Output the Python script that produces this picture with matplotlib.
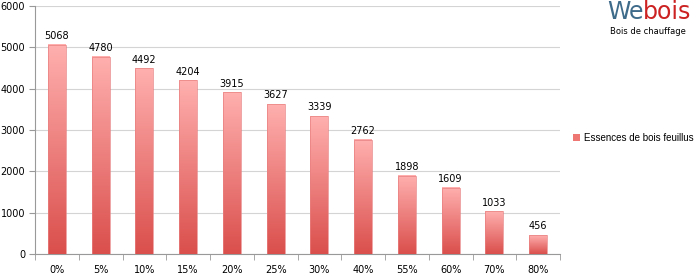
import numpy as np
import matplotlib
matplotlib.use("Agg")
import matplotlib.pyplot as plt
import matplotlib.colors as mcolors
from matplotlib.patches import Rectangle

# humidity categories and energy values
categories = ["0%", "5%", "10%", "15%", "20%", "25%", "30%", "40%", "55%", "60%", "70%", "80%"]
values = [5068, 4780, 4492, 4204, 3915, 3627, 3339, 2762, 1898, 1609, 1033, 456]
series_name = "Essences de bois feuillus"

plt.rcParams['font.family'] = ['DejaVu Sans']

fig = plt.figure(figsize=(7, 2.77), dpi=100, facecolor='white')
ax = fig.add_axes([0.05, 0.083, 0.75, 0.895])

bar_cmap = mcolors.LinearSegmentedColormap.from_list("bar", ['#DA4F4C', '#FFB0AF'])
grad = np.linspace(0, 1, 256).reshape(-1, 1)
width = 0.41

for i, v in enumerate(values):
    ax.imshow(grad, cmap=bar_cmap, origin='lower', aspect='auto',
              extent=[i - width / 2, i + width / 2, 0, v], zorder=3)
    ax.add_patch(Rectangle((i - width / 2, 0), width, v, fill=False,
                           edgecolor='#E88080', lw=0.5, zorder=4))
    ax.text(i, v + 90, str(v), ha='center', va='bottom', fontsize=7, color='black')

ax.set_xlim(-0.5, len(categories) - 0.5)
ax.set_ylim(0, 6000)
ax.set_yticks(range(0, 6001, 1000))
ax.set_xticks(range(len(categories)))
ax.set_xticklabels(categories)
ax.set_xticks(np.arange(-0.5, len(categories), 1), minor=True)
ax.tick_params(axis='x', which='major', length=0, labelsize=7, pad=8)
ax.tick_params(axis='x', which='minor', length=4, color='#999999')
ax.tick_params(axis='y', length=4, color='#999999', labelsize=7, pad=3)
ax.grid(axis='y', color='#D4D4D4', lw=0.8, zorder=0)
ax.set_axisbelow(True)
for s in ['top', 'right']:
    ax.spines[s].set_visible(False)
for s in ['left', 'bottom']:
    ax.spines[s].set_color('#999999')
    ax.spines[s].set_linewidth(0.8)

# legend
fig.patches.append(Rectangle((0.819, 0.49), 0.009, 0.025, transform=fig.transFigure,
                             facecolor='#EE7774', edgecolor='none'))
fig.text(0.834, 0.502, series_name, fontsize=7, va='center', ha='left',
         family=['Liberation Sans'])

# logo
fig.text(0.919, 0.915, "We", fontsize=17, color='#3E6B8A', ha='right', va='bottom')
fig.text(0.919, 0.915, "bois", fontsize=17, color='#CC2222', ha='left', va='bottom')
fig.text(0.925, 0.885, "Bois de chauffage", fontsize=6, color='black', ha='center', va='center')

fig.savefig("out.png", dpi=100, facecolor='white')
